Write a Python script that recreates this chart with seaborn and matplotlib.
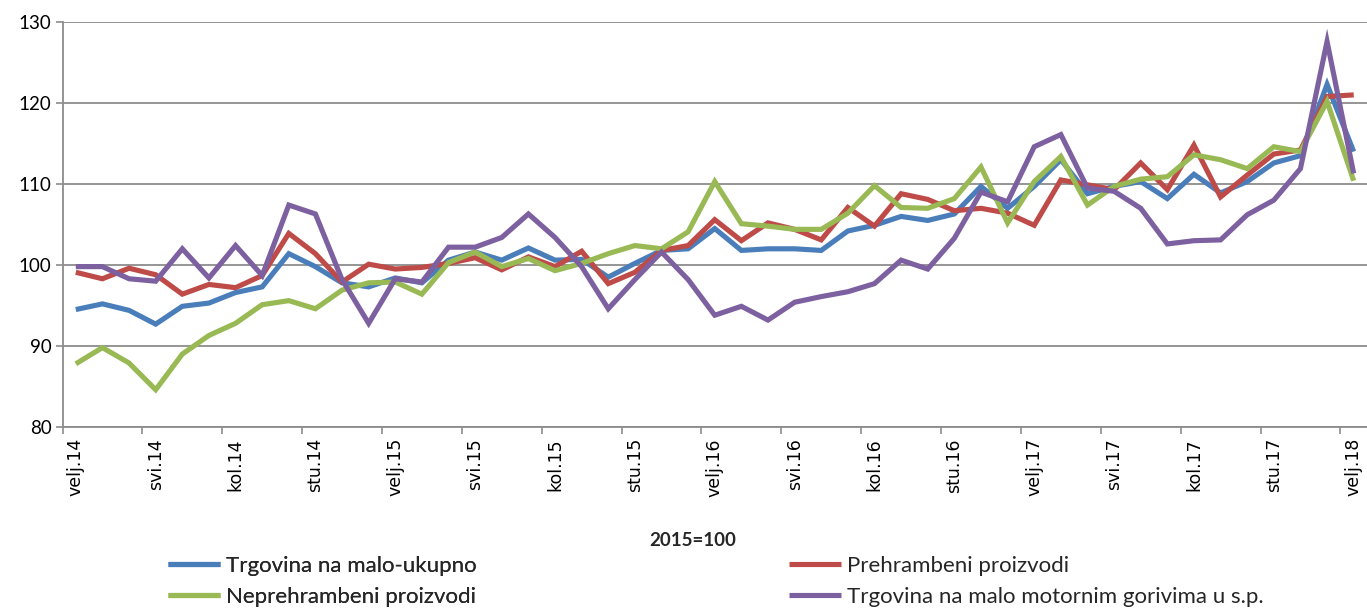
import numpy as np
import pandas as pd
import matplotlib
matplotlib.use("Agg")
import matplotlib.pyplot as plt
import seaborn as sns

# 49 monthly categories, Feb 2014 .. Feb 2018
month_names = ['sij', 'velj', 'ožu', 'tra', 'svi', 'lip', 'srp', 'kol', 'ruj', 'lis', 'stu', 'pro']
categories = []
for k in range(49):
    m = (1 + k) % 12
    y = 14 + (1 + k) // 12
    categories.append(f"{month_names[m]}.{y}")

ukupno = [94.5, 95.2, 94.4, 92.7, 94.9, 95.3, 96.6, 97.3, 101.4, 99.8, 97.8, 97.3,
          98.4, 97.8, 100.6, 101.6, 100.6, 102.1, 100.6, 100.7, 98.5, 100.2, 101.8, 102.0,
          104.5, 101.8, 102.0, 102.0, 101.8, 104.2, 104.9, 106.0, 105.5, 106.3, 109.7, 107.0,
          109.7, 113.0, 108.8, 109.7, 110.3, 108.2, 111.2, 108.9, 110.3, 112.6, 113.5, 122.3, 114.0]
prehrambeni = [99.1, 98.3, 99.6, 98.8, 96.4, 97.6, 97.2, 98.7, 103.9, 101.4, 97.9, 100.1,
               99.5, 99.7, 100.2, 100.9, 99.4, 101.0, 99.8, 101.7, 97.7, 99.1, 101.8, 102.4,
               105.6, 103.0, 105.2, 104.4, 103.1, 107.1, 104.8, 108.8, 108.1, 106.7, 107.0, 106.4,
               104.9, 110.5, 109.9, 109.3, 112.6, 109.3, 114.8, 108.4, 111.1, 113.7, 114.2, 120.8, 121.0]
neprehrambeni = [87.8, 89.8, 87.9, 84.6, 89.0, 91.3, 92.8, 95.1, 95.6, 94.6, 96.9, 97.8,
                 97.9, 96.4, 100.3, 101.6, 99.8, 100.8, 99.3, 100.2, 101.4, 102.4, 102.0, 104.1,
                 110.3, 105.1, 104.8, 104.4, 104.4, 106.4, 109.8, 107.1, 107.0, 108.2, 112.1, 105.2,
                 110.3, 113.4, 107.4, 109.7, 110.6, 110.9, 113.6, 113.0, 111.9, 114.6, 114.0, 120.2, 110.4]
gorivo = [99.8, 99.8, 98.3, 98.0, 102.0, 98.4, 102.4, 98.7, 107.4, 106.3, 98.2, 92.8,
          98.3, 97.9, 102.2, 102.2, 103.4, 106.3, 103.4, 99.8, 94.6, 98.2, 101.6, 98.2,
          93.8, 94.9, 93.2, 95.4, 96.1, 96.7, 97.7, 100.6, 99.5, 103.3, 109.0, 107.8,
          114.6, 116.1, 109.5, 109.1, 107.0, 102.6, 103.0, 103.1, 106.2, 108.0, 111.9, 127.6, 111.3]

series_names = ["Trgovina na malo-ukupno", "Prehrambeni proizvodi",
                "Neprehrambeni proizvodi", "Trgovina na malo motornim gorivima u s.p."]
series_values = [ukupno, prehrambeni, neprehrambeni, gorivo]
colors = ["#4A7EBB", "#BE4B48", "#98B954", "#7D60A0"]
y_ticks = [80, 90, 100, 110, 120, 130]

sns.set_theme(style="white")
plt.rcParams['font.family'] = ['Lato', 'DejaVu Sans']

W, H = 1367, 608
fig = plt.figure(figsize=(W / 100, H / 100), dpi=100)
left = 62.5 / W
bottom = 1 - 427 / H
top = 1 - 22 / H
ax = fig.add_axes([left, bottom, 1 - left, top - bottom])

x = np.arange(len(categories))
for name, vals, c in zip(series_names, series_values, colors):
    sns.lineplot(x=x, y=vals, ax=ax, color=c, linewidth=3.7, label=name,
                 solid_joinstyle="miter", solid_capstyle="butt")

ax.set_xlim(-0.5, len(categories) - 0.5)
ax.set_ylim(80, 130)
ax.set_yticks(y_ticks)
ax.set_yticklabels([str(v) for v in y_ticks], fontsize=13.5, color="#000000")
ax.grid(axis="y", color="#8C8C8C", linewidth=1.3)
ax.grid(axis="x", visible=False)
ax.set_axisbelow(True)

major = np.arange(0, len(categories), 3)
ax.set_xticks(major)
ax.set_xticklabels([categories[i] for i in major], rotation=90, fontsize=12.5,
                   family="DejaVu Sans", color="#000000")
ax.set_xticks(np.arange(-0.5, len(categories), 3), minor=True)
ax.tick_params(axis="x", which="major", length=0, pad=8)
ax.tick_params(axis="x", which="minor", length=5, width=1.2, color="#8C8C8C", direction="out", bottom=True)
ax.tick_params(axis="y", length=5, width=1.2, color="#8C8C8C", direction="out", left=True, pad=3)

for s in ["top", "right"]:
    ax.spines[s].set_visible(False)
for s in ["left", "bottom"]:
    ax.spines[s].set_color("#8C8C8C")
    ax.spines[s].set_linewidth(1.3)
ax.set_xlabel("")
ax.set_ylabel("")

handles, labels = ax.get_legend_handles_labels()
if ax.get_legend() is not None:
    ax.get_legend().remove()

fig.text(693 / W, 1 - 541 / H, "2015=100", ha="center", va="center",
         fontsize=13.5, fontweight="bold")

leg_kw = dict(frameon=False, fontsize=16, handlelength=2.35, handletextpad=0.25,
              labelspacing=0.5, borderpad=0, borderaxespad=0, loc="upper left")
l1 = fig.legend([handles[0], handles[2]], [labels[0], labels[2]],
                bbox_to_anchor=(168 / W, 1 - 556 / H), **leg_kw)
fig.add_artist(l1)
l2 = fig.legend([handles[1], handles[3]], [labels[1], labels[3]],
                bbox_to_anchor=(789 / W, 1 - 556 / H), **leg_kw)

fig.savefig("out.png", dpi=100)
